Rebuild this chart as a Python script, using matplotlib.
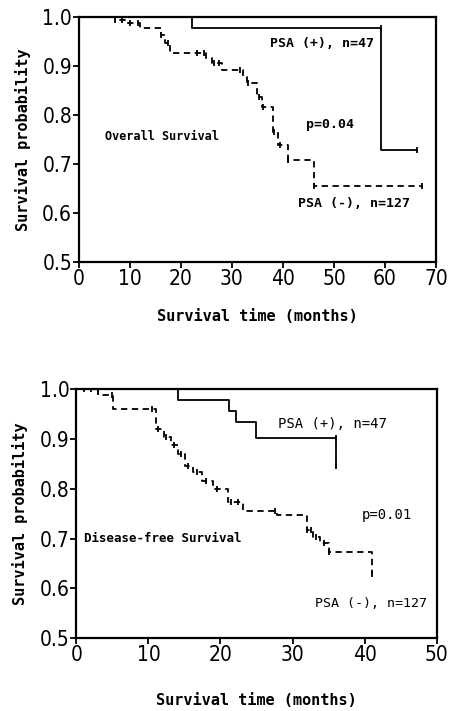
import matplotlib
matplotlib.use("Agg")
import matplotlib.pyplot as plt
from matplotlib import font_manager

# ---------------- data ----------------
# Overall survival (top panel)
os_pos_t = [0, 22.2, 59.2, 66.2]
os_pos_s = [1.0, 0.976, 0.729, 0.729]
os_pos_cens_t = [59.2, 66.2]
os_pos_cens_s = [0.976, 0.729]

os_neg_t = [0, 7.1, 9.0, 12.0, 16.0, 16.9, 17.8, 25.0, 26.0, 28.0, 32.1, 32.9,
            35.0, 35.8, 38.1, 39.1, 41.0, 46.0, 67.2]
os_neg_s = [1.0, 0.993, 0.987, 0.976, 0.963, 0.946, 0.927, 0.915, 0.905, 0.891,
            0.878, 0.864, 0.837, 0.816, 0.765, 0.738, 0.708, 0.655, 0.655]
os_neg_cens_t = [7.1, 8.4, 10.0, 11.5, 16.0, 17.5, 23.1, 24.5, 26.5, 27.5, 31.5,
                 33.2, 35.2, 36.0, 38.2, 39.4, 41.0, 46.0, 67.2]

# Disease-free survival (bottom panel)
dfs_pos_t = [0, 14.05, 21.2, 22.1, 25.0, 36.0]
dfs_pos_s = [1.0, 0.978, 0.956, 0.933, 0.902, 0.846]
dfs_pos_cens_t = [36.0, 36.0]
dfs_pos_cens_s = [0.902, 0.846]

dfs_neg_t = [0, 3.05, 5.1, 11.1, 12.1, 13.2, 14.1, 15.1, 16.2, 17.5, 19.0, 21.1,
             23.1, 27.8, 32.0, 32.9, 33.8, 35.0, 41.0]
dfs_neg_s = [1.0, 0.988, 0.960, 0.920, 0.903, 0.887, 0.870, 0.846, 0.833, 0.816,
             0.799, 0.773, 0.755, 0.747, 0.718, 0.704, 0.691, 0.674, 0.630]
dfs_neg_cens_t = [1.0, 2.0, 3.0, 5.0, 10.5, 11.3, 12.5, 13.5, 14.5, 15.5, 16.8,
                  18.0, 19.5, 21.5, 22.5, 27.5, 32.0, 32.5, 33.3, 34.3, 35.0, 41.0]

# ---------------- fonts ----------------
avail = {f.name for f in font_manager.fontManager.ttflist}
if "Liberation Sans Narrow" in avail:
    tick_font, tick_stretch = "Liberation Sans Narrow", "normal"
else:
    tick_font, tick_stretch = "DejaVu Sans", "condensed"
mono = "DejaVu Sans Mono"

fig = plt.figure(figsize=(4.55, 7.11), dpi=100)


def step_value(ts, ss, t):
    v = ss[0]
    for ti, si in zip(ts, ss):
        if ti <= t:
            v = si
    return v


def setup(ax, xmax, xticks):
    ax.set_xlim(0, xmax)
    ax.set_ylim(0.5, 1.0)
    ax.set_xticks(xticks)
    ax.set_yticks([0.5, 0.6, 0.7, 0.8, 0.9, 1.0])
    ax.set_yticklabels(["0.5", "0.6", "0.7", "0.8", "0.9", "1.0"])
    for s in ax.spines.values():
        s.set_linewidth(1.6)
    ax.tick_params(direction="out", length=4, width=1.3, pad=1)
    for lab in ax.get_xticklabels() + ax.get_yticklabels():
        lab.set_fontfamily(tick_font)
        lab.set_fontstretch(tick_stretch)
        lab.set_fontsize(15)
    ax.set_xlabel("Survival time (months)", family=mono, fontsize=11, fontweight="bold")
    ax.set_ylabel("Survival probability", family=mono, fontsize=11, fontweight="bold", labelpad=8)


# ---------------- top panel ----------------
ax1 = fig.add_axes([0.1736, 0.6315, 0.7846, 0.345])
ax1.step(os_pos_t, os_pos_s, where="post", color="black", lw=1.3)
ax1.step(os_neg_t, os_neg_s, where="post", color="black", lw=1.3, linestyle=(0, (3.5, 2.5)))
ax1.plot(os_pos_cens_t, os_pos_cens_s, linestyle="none", marker="|", color="black", ms=4, mew=1.3)
ax1.plot(os_neg_cens_t, [step_value(os_neg_t, os_neg_s, t) for t in os_neg_cens_t],
         linestyle="none", marker="|", color="black", ms=4, mew=1.3)
setup(ax1, 70, [0, 10, 20, 30, 40, 50, 60, 70])
ax1.xaxis.set_label_coords(0.5, -0.19)
ax1.text(37.5, 0.946, "PSA (+), n=47", family=mono, fontsize=9.5, fontweight="bold", va="center")
ax1.text(44.6, 0.781, "p=0.04", family=mono, fontsize=9.5, fontweight="bold", va="center")
ax1.text(5.1, 0.755, "Overall Survival", family=mono, fontsize=8.5, fontweight="bold", va="center")
ax1.text(43.0, 0.619, "PSA (-), n=127", family=mono, fontsize=9.5, fontweight="bold", va="center")

# ---------------- bottom panel ----------------
ax2 = fig.add_axes([0.1677, 0.1022, 0.792, 0.3507])
ax2.step(dfs_pos_t, dfs_pos_s, where="post", color="black", lw=1.3)
ax2.step(dfs_neg_t, dfs_neg_s, where="post", color="black", lw=1.3, linestyle=(0, (3.5, 2.5)))
ax2.plot(dfs_pos_cens_t, dfs_pos_cens_s, linestyle="none", marker="|", color="black", ms=4, mew=1.3)
ax2.plot(dfs_neg_cens_t, [step_value(dfs_neg_t, dfs_neg_s, t) for t in dfs_neg_cens_t],
         linestyle="none", marker="|", color="black", ms=4, mew=1.3)
setup(ax2, 50, [0, 10, 20, 30, 40, 50])
ax2.xaxis.set_label_coords(0.5, -0.22)
ax2.text(28.0, 0.930, "PSA (+), n=47", family=mono, fontsize=10, va="center")
ax2.text(39.6, 0.748, "p=0.01", family=mono, fontsize=10, va="center")
ax2.text(1.0, 0.701, "Disease-free Survival", family=mono, fontsize=9, fontweight="bold", va="center")
ax2.text(33.1, 0.569, "PSA (-), n=127", family=mono, fontsize=9.6, va="center")

fig.savefig("out.png", dpi=100)
